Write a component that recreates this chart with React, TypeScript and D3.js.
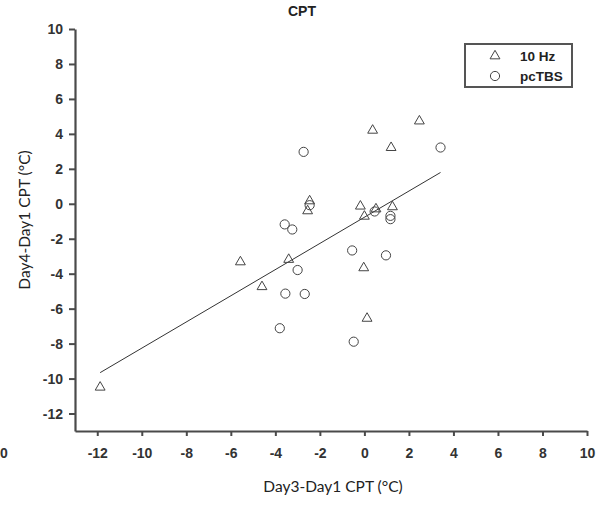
import * as d3 from "d3";
import { useEffect, useRef } from "react";

// 10 Hz group (triangles)
const hzX = [2.47, 0.37, 1.2, -2.46, -2.55, -0.18, 0.0, 0.52, 1.26, -5.57, -3.4, -4.6, -0.03, 0.12, -11.87];
const hzY = [4.76, 4.23, 3.24, 0.19, -0.38, -0.11, -0.69, -0.27, -0.15, -3.3, -3.16, -4.72, -3.64, -6.53, -10.47];

// pcTBS group (circles)
const tbsX = [-2.73, 3.42, -2.46, 0.46, 1.17, 1.17, -3.58, -3.24, -0.55, 0.97, -3.0, -3.55, -2.68, -3.8, -0.48];
const tbsY = [2.97, 3.22, -0.08, -0.44, -0.69, -0.88, -1.18, -1.47, -2.67, -2.95, -3.79, -5.14, -5.16, -7.12, -7.89];

const xTicks = [-12, -10, -8, -6, -4, -2, 0, 2, 4, 6, 8, 10];
const yTicks = [-12, -10, -8, -6, -4, -2, 0, 2, 4, 6, 8, 10];
const legendLabels = ["10 Hz", "pcTBS"];

// fitted line
const fitSlope = 0.749;
const fitIntercept = -0.77;

export default function App() {
  const ref = useRef<SVGSVGElement>(null);

  useEffect(() => {
    if (!ref.current) return;
    const svg = d3.select(ref.current);
    svg.selectAll("*").remove();

    const width = 600,
      height = 505;
    const axisColor = "#4a4a4a";
    const markColor = "#444";
    const tickFont = "Liberation Sans, Arial, sans-serif";
    const labelFont = "Lato, 'Open Sans', sans-serif";
    const fmt = (d: number) => String(d);

    const x = d3.scaleLinear().domain([-13, 10]).range([75, 587]);
    const y = d3.scaleLinear().domain([-13, 10]).range([431, 29]);

    svg.attr("width", width).attr("height", height);

    // title
    svg.append("text")
      .attr("x", 302)
      .attr("y", 16)
      .attr("text-anchor", "middle")
      .attr("font-family", tickFont)
      .attr("font-weight", "bold")
      .attr("font-size", "14px")
      .attr("fill", "#222")
      .text("CPT");

    // regression line
    const allX = hzX.concat(tbsX);
    const [xmin, xmax] = d3.extent(allX) as [number, number];
    svg.append("path")
      .datum([xmin, xmax])
      .attr("fill", "none")
      .attr("stroke", "#333")
      .attr("stroke-width", 1)
      .attr("d", d3.line<number>()
        .x((d) => x(d))
        .y((d) => y(fitSlope * d + fitIntercept)));

    // y axis
    const yAxis = svg.append("g")
      .attr("transform", `translate(${x(-13)},0)`)
      .call(d3.axisLeft(y).tickValues(yTicks).tickFormat(fmt).tickSize(6).tickSizeOuter(0).tickPadding(6));
    yAxis.select(".domain").attr("stroke", axisColor).attr("stroke-width", 2.2);
    yAxis.selectAll(".tick line").attr("stroke", axisColor).attr("stroke-width", 2);
    yAxis.selectAll("text")
      .attr("fill", "#333")
      .attr("font-family", tickFont)
      .attr("font-weight", "bold")
      .attr("font-size", "14px");

    // x axis
    const xAxis = svg.append("g")
      .attr("transform", `translate(0,${y(-13)})`)
      .call(d3.axisBottom(x).tickValues(xTicks).tickFormat(fmt).tickSize(5).tickSizeOuter(0).tickPadding(12));
    xAxis.select(".domain").attr("stroke", axisColor).attr("stroke-width", 2.2);
    xAxis.selectAll(".tick line").attr("stroke", axisColor).attr("stroke-width", 2);
    xAxis.selectAll("text")
      .attr("fill", "#333")
      .attr("font-family", tickFont)
      .attr("font-weight", "bold")
      .attr("font-size", "14px");

    // stray label at far left edge
    svg.append("text")
      .attr("x", 0)
      .attr("y", 458)
      .attr("font-family", tickFont)
      .attr("font-weight", "bold")
      .attr("font-size", "14px")
      .attr("fill", "#333")
      .text("0");

    // axis titles
    svg.append("text")
      .attr("x", 333)
      .attr("y", 492)
      .attr("text-anchor", "middle")
      .attr("font-family", labelFont)
      .attr("font-size", "15.5px")
      .attr("fill", "#222")
      .text("Day3-Day1 CPT (°C)");

    svg.append("text")
      .attr("transform", "rotate(-90)")
      .attr("x", -220)
      .attr("y", 30)
      .attr("text-anchor", "middle")
      .attr("font-family", labelFont)
      .attr("font-size", "15.5px")
      .attr("fill", "#222")
      .text("Day4-Day1 CPT (°C)");

    const tri = d3.symbol().type(d3.symbolTriangle).size(42);

    // circles
    svg.selectAll("circle.tbs")
      .data(tbsX.map((v, i) => [v, tbsY[i]]))
      .enter()
      .append("circle")
      .attr("class", "tbs")
      .attr("cx", (d) => x(d[0]))
      .attr("cy", (d) => y(d[1]))
      .attr("r", 4.6)
      .attr("fill", "none")
      .attr("stroke", markColor)
      .attr("stroke-width", 1);

    // triangles
    svg.selectAll("path.hz")
      .data(hzX.map((v, i) => [v, hzY[i]]))
      .enter()
      .append("path")
      .attr("class", "hz")
      .attr("d", tri)
      .attr("transform", (d) => `translate(${x(d[0])},${y(d[1]) + 0.5})`)
      .attr("fill", "none")
      .attr("stroke", markColor)
      .attr("stroke-width", 1);

    // legend
    const lg = svg.append("g").attr("transform", "translate(465,44)");
    lg.append("rect")
      .attr("width", 107)
      .attr("height", 43)
      .attr("fill", "white")
      .attr("stroke", "#555")
      .attr("stroke-width", 2);
    lg.append("path")
      .attr("d", tri)
      .attr("transform", "translate(30,12)")
      .attr("fill", "none")
      .attr("stroke", markColor);
    lg.append("circle")
      .attr("cx", 30)
      .attr("cy", 32)
      .attr("r", 4.6)
      .attr("fill", "none")
      .attr("stroke", markColor);
    lg.selectAll("text.lbl")
      .data(legendLabels)
      .enter()
      .append("text")
      .attr("class", "lbl")
      .attr("x", 55)
      .attr("y", (d, i) => 17 + i * 20)
      .attr("font-family", tickFont)
      .attr("font-weight", "bold")
      .attr("font-size", "13.5px")
      .attr("fill", "#222")
      .text((d) => d);
  }, []);

  return (
    <div style={{ position: "absolute", left: 0, top: 0 }}>
      <svg ref={ref} style={{ display: "block" }} />
    </div>
  );
}
